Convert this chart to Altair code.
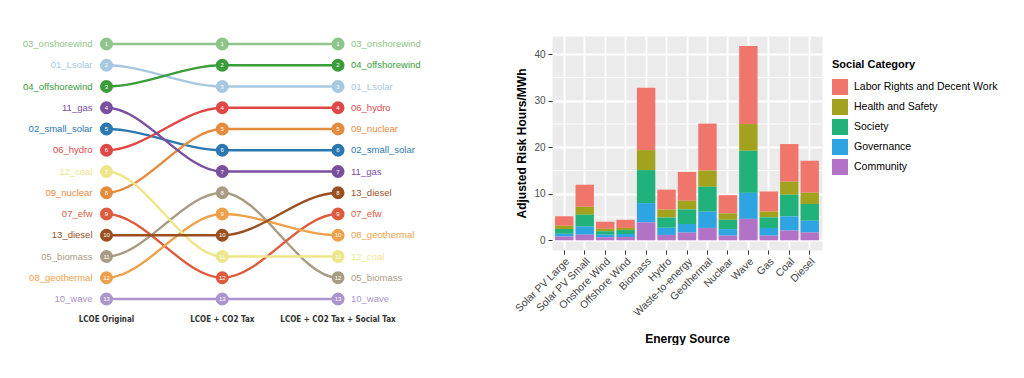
import altair as alt
import pandas as pd

# ---------------- Bump chart data ----------------
stages = ["LCOE Original", "LCOE + CO2 Tax", "LCOE + CO2 Tax + Social Tax"]
technologies = ["01_Lsolar", "02_small_solar", "03_onshorewind", "04_offshorewind",
                "05_biomass", "06_hydro", "07_efw", "08_geothermal", "09_nuclear",
                "10_wave", "11_gas", "12_coal", "13_diesel"]
rank_original = [2, 5, 1, 3, 11, 6, 9, 12, 8, 13, 4, 7, 10]
rank_co2 = [3, 6, 1, 2, 8, 4, 12, 9, 5, 13, 7, 11, 10]
rank_social = [3, 6, 1, 2, 12, 4, 9, 10, 5, 13, 7, 11, 8]
tech_colors = ["#a6c8e0", "#2b78b0", "#8fc58a", "#3a9d3a", "#a99c84", "#e04848",
               "#dd5c3e", "#eea14a", "#e48b3e", "#ab95cd", "#7a4f9e", "#ede68c",
               "#9a4f1f"]

# ---------------- Stacked bar data ----------------
sources = ["Solar PV Large", "Solar PV Small", "Onshore Wind", "Offshore Wind",
           "Biomass", "Hydro", "Waste-to-energy", "Geothermal", "Nuclear", "Wave",
           "Gas", "Coal", "Diesel"]
categories = ["Labor Rights and Decent Work", "Health and Safety", "Society",
              "Governance", "Community"]
cat_colors = ["#F0766C", "#A3A21E", "#20B27A", "#2EA5E2", "#B273C6"]
labor = [2.05, 4.75, 1.55, 1.75, 13.4, 4.3, 6.2, 10.1, 3.9, 16.8, 4.3, 8.1, 6.9]
health = [0.65, 1.7, 0.5, 0.45, 4.3, 1.7, 1.85, 3.5, 1.4, 5.75, 1.25, 2.8, 2.4]
society = [1.05, 2.55, 0.75, 0.85, 7.1, 2.2, 3.15, 5.35, 2.0, 9.05, 2.3, 4.65, 3.6]
governance = [0.6, 1.75, 0.55, 0.65, 4.15, 1.55, 1.85, 3.5, 1.4, 5.6, 1.65, 3.05, 2.5]
community = [0.8, 1.2, 0.65, 0.7, 3.85, 1.15, 1.65, 2.65, 1.0, 4.6, 1.0, 2.1, 1.7]
y_breaks = [0, 10, 20, 30, 40]
minor_breaks = [5, 15, 25, 35]

FONT = "Liberation Sans"

# ---------- build tables ----------
rank_lists = [rank_original, rank_co2, rank_social]
node_rows = []
for si, ranks in enumerate(rank_lists):
    for t, r in zip(technologies, ranks):
        node_rows.append({"tech": t, "x": si + 1, "rank": r, "stage": stages[si]})
nodes = pd.DataFrame(node_rows)

# line table: the stage ranks, each end held flat so the curve leaves nodes horizontally
eps = 0.001
line_rows = []
for i, t in enumerate(technologies):
    r = [rank_original[i], rank_co2[i], rank_social[i]]
    line_rows.append({"tech": t, "x": 1 - eps, "rank": r[0]})
    for si in range(3):
        line_rows.append({"tech": t, "x": si + 1, "rank": r[si]})
    line_rows.append({"tech": t, "x": 3 + eps, "rank": r[2]})
lines_df = pd.DataFrame(line_rows)

stage_df = pd.DataFrame({"x": [1, 2, 3], "stage": stages})

xs = alt.Scale(domain=[0.1577, 3.786], nice=False, zero=False)
ys = alt.Scale(domain=[0.6235, 14.741], nice=False, zero=False, reverse=True)
tcol = alt.Color("tech:N", scale=alt.Scale(domain=technologies, range=tech_colors), legend=None)

base_x = alt.X("x:Q", scale=xs, axis=None)
base_y = alt.Y("rank:Q", scale=ys, axis=None)

lines = alt.Chart(lines_df).mark_line(interpolate="monotone", strokeWidth=2.4).encode(
    x=base_x, y=base_y, color=tcol, detail="tech:N", order=alt.Order("x:Q")
)
circles = alt.Chart(nodes).mark_circle(size=170, opacity=1).encode(x=base_x, y=base_y, color=tcol)
nums = alt.Chart(nodes).mark_text(color="white", fontSize=6, font=FONT, baseline="middle").encode(
    x=base_x, y=base_y, text="rank:Q"
)
left_lab = alt.Chart(nodes).transform_filter(alt.datum.x == 1).mark_text(
    align="right", baseline="middle", dx=-14, fontSize=9.5, font=FONT
).encode(x=base_x, y=base_y, text="tech:N", color=tcol)
right_lab = alt.Chart(nodes).transform_filter(alt.datum.x == 3).mark_text(
    align="left", baseline="middle", dx=13, fontSize=9.5, font=FONT
).encode(x=base_x, y=base_y, text="tech:N", color=tcol)
stage_lab = alt.Chart(stage_df).mark_text(
    align="center", baseline="middle", fontSize=8, fontWeight="bold", color="#333333",
    font="DejaVu Sans Condensed"
).encode(x=base_x, y=alt.value(284), text="stage:N")

left = alt.layer(lines, circles, nums, left_lab, right_lab, stage_lab).properties(
    width=420, height=300
)

# ---------- bar chart ----------
bar_rows = []
series = [labor, health, society, governance, community]
for ci, (cat, vals) in enumerate(zip(categories, series)):
    for s, v in zip(sources, vals):
        bar_rows.append({"source": s, "category": cat, "value": v, "stack_order": 4 - ci})
bar_df = pd.DataFrame(bar_rows)
minor_df = pd.DataFrame({"value": minor_breaks})

yscale = alt.Scale(domain=[-2.09, 43.94], nice=False, zero=False)
yaxis = alt.Axis(values=y_breaks, grid=True, gridColor="white", gridWidth=1.8, domain=False,
                 tickColor="#333333", tickSize=4, tickWidth=1, labelPadding=3,
                 labelFontSize=10, labelColor="#4d4d4d", labelFont=FONT,
                 title="Adjusted Risk Hours/MWh", titleFontSize=12, titleFontWeight="bold",
                 titleColor="black", titleFont=FONT, titlePadding=5)

minor = alt.Chart(minor_df).mark_rule(color="white", strokeWidth=0.9).encode(
    y=alt.Y("value:Q", scale=yscale, axis=yaxis)
)
bars = alt.Chart(bar_df).mark_bar().encode(
    x=alt.X("source:N", sort=sources,
            scale=alt.Scale(paddingInner=0.1, paddingOuter=0.15),
            axis=alt.Axis(grid=True, gridColor="white", gridWidth=1.8, bandPosition=0.5,
                          domain=False, tickColor="#333333", tickSize=4, tickWidth=1,
                          labelAngle=-45, labelAlign="right", labelBaseline="top",
                          labelPadding=2, labelFontSize=10.5, labelColor="#444444",
                          labelFont=FONT, title="Energy Source", titleFontSize=12,
                          titleFontWeight="bold", titleColor="black", titleFont=FONT,
                          titlePadding=15)),
    y=alt.Y("value:Q", stack="zero", scale=yscale, axis=yaxis),
    color=alt.Color("category:N", scale=alt.Scale(domain=categories, range=cat_colors),
                    legend=alt.Legend(title="Social Category", orient="none",
                                      legendX=280, legendY=23,
                                      titleFontSize=11, titleFontWeight="bold",
                                      titleColor="black", titleFont=FONT, titlePadding=9,
                                      labelFontSize=10.5, labelColor="black", labelFont=FONT,
                                      labelOffset=6, symbolType="square", symbolSize=256,
                                      symbolStrokeWidth=0, symbolOpacity=1, rowPadding=4)),
    order=alt.Order("stack_order:Q", sort="ascending"),
)
right = alt.layer(minor, bars).properties(
    width=270, height=214,
    view=alt.ViewBackground(fill="#EBEBEB", stroke="transparent"),
)

chart = alt.hconcat(left, right, spacing=82).resolve_scale(
    color="independent"
).properties(
    padding={"left": 0, "top": 27, "right": 0, "bottom": 0}
).configure(font=FONT).configure_view(stroke="transparent")

chart.save("out.html", embed_options={"renderer": "svg", "actions": False})
